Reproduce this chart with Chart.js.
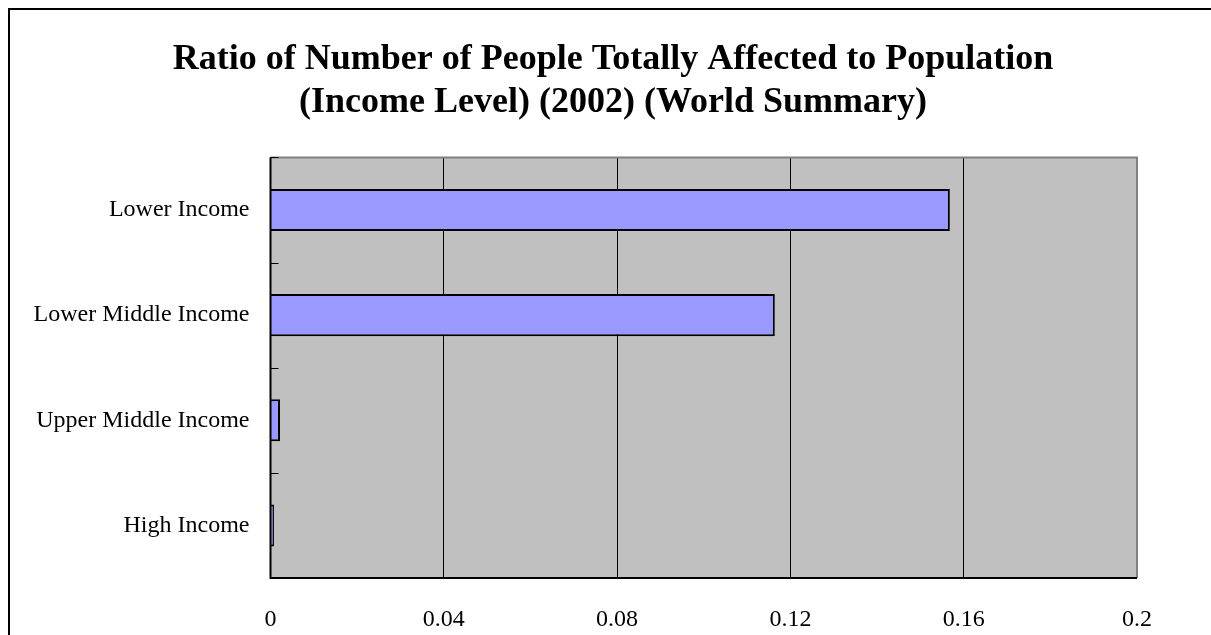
<!DOCTYPE html>
<html>
<head>
<meta charset="utf-8">
<script src="https://cdn.jsdelivr.net/npm/chart.js@4.4.1/dist/chart.umd.min.js"></script>
<style>
  html, body { margin: 0; padding: 0; background: #fff; overflow: hidden; }
  #wrap { position: relative; width: 1211px; height: 635px; }
  #c { position: absolute; left: 0; top: 0; }
  #frame { position: absolute; left: 8px; top: 8px; width: 1300px; height: 700px;
           border-left: 2px solid #000; border-top: 2px solid #000; pointer-events: none; }
</style>
</head>
<body>
<div id="wrap">
  <canvas id="c" width="1211" height="635"></canvas>
  <div id="frame"></div>
</div>
<script>
const titleLines = ['Ratio of Number of People Totally Affected to Population', '(Income Level) (2002) (World Summary)'];
const categories = ['Lower Income', 'Lower Middle Income', 'Upper Middle Income', 'High Income'];
const ratioValues = [0.1568, 0.1164, 0.0022, 0.0008];
const xTickLabels = ['0', '0.04', '0.08', '0.12', '0.16', '0.2'];

const serif = '"Liberation Serif", "Times New Roman", serif';

const plotPlugin = {
  id: 'plotPlugin',
  beforeDraw(chart) {
    const { ctx, chartArea: a } = chart;
    ctx.save();
    ctx.fillStyle = '#C0C0C0';
    ctx.fillRect(a.left, a.top, a.right - a.left, a.bottom - a.top);
    ctx.restore();
  },
  afterDraw(chart) {
    const { ctx, chartArea: a } = chart;
    const y = chart.scales.y;
    ctx.save();
    ctx.strokeStyle = '#808080';
    ctx.lineWidth = 2;
    ctx.beginPath();
    ctx.moveTo(a.left, a.top);
    ctx.lineTo(a.right, a.top);
    ctx.lineTo(a.right, a.bottom);
    ctx.stroke();
    ctx.strokeStyle = '#000';
    ctx.lineWidth = 2;
    ctx.beginPath();
    ctx.moveTo(a.left, a.top);
    ctx.lineTo(a.left, a.bottom);
    ctx.lineTo(a.right, a.bottom);
    ctx.stroke();
    ctx.lineWidth = 1;
    ctx.beginPath();
    for (let i = 0; i <= categories.length; i++) {
      let py;
      if (i === 0) py = a.top;
      else if (i === categories.length) py = a.bottom;
      else py = (y.getPixelForValue(i - 1) + y.getPixelForValue(i)) / 2;
      py = Math.round(py) + 0.5;
      ctx.moveTo(a.left, py);
      ctx.lineTo(a.left + 8, py);
    }
    ctx.stroke();
    ctx.restore();
  }
};

new Chart(document.getElementById('c'), {
  type: 'bar',
  data: {
    labels: categories,
    datasets: [{
      data: ratioValues,
      backgroundColor: '#9999FF',
      borderColor: '#000',
      borderWidth: 2,
      categoryPercentage: 0.8,
      barPercentage: 0.5
    }]
  },
  options: {
    indexAxis: 'y',
    responsive: false,
    animation: false,
    layout: { padding: { left: 15, right: 0, top: 0, bottom: 0 } },
    plugins: {
      legend: { display: false },
      tooltip: { enabled: false },
      title: {
        display: true,
        text: titleLines,
        color: '#000',
        font: { family: serif, size: 36, weight: 'bold', lineHeight: 1.2 },
        padding: { top: 38, bottom: 33 }
      }
    },
    scales: {
      x: {
        min: 0,
        max: 0.2,
        border: { display: false },
        grid: { color: '#000', lineWidth: 1, drawTicks: false },
        ticks: {
          stepSize: 0.04,
          padding: 27,
          color: '#000',
          font: { family: serif, size: 24 },
          callback: (v, i) => xTickLabels[i]
        },
        afterFit: (s) => { s.height = 57; }
      },
      y: {
        border: { display: false },
        grid: { display: false, drawTicks: false },
        ticks: {
          padding: 21,
          color: '#000',
          font: { family: serif, size: 24 }
        },
        afterFit: (s) => { s.width = 255.5; }
      },
      y2: {
        type: 'linear',
        position: 'right',
        display: true,
        border: { display: false },
        grid: { display: false, drawTicks: false },
        ticks: { display: false },
        afterFit: (s) => { s.width = 74; }
      }
    }
  },
  plugins: [plotPlugin]
});
</script>
</body>
</html>
